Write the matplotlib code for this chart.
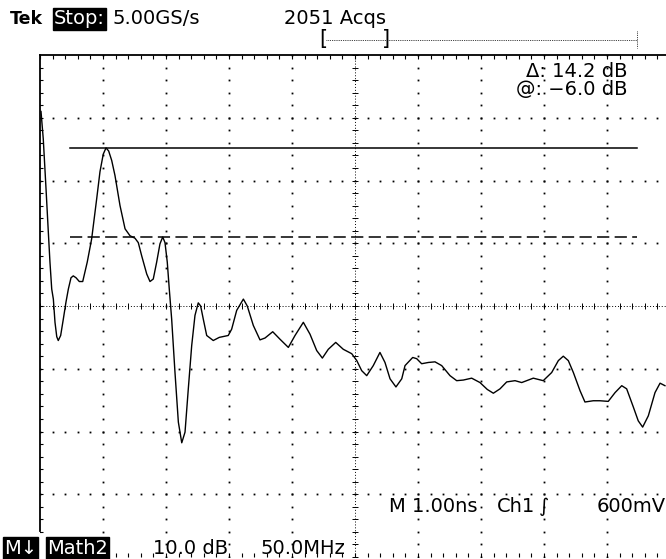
import matplotlib
matplotlib.use("Agg")
import matplotlib.pyplot as plt
import numpy as np

# trace: frequency (MHz, 50 MHz/div) and level (dB, 10 dB/div)
freq_mhz = [0.8, 2.6, 4.8, 6.6, 7.9, 9.3, 10.6, 11.9, 13.3, 14.5, 16.4, 18.5, 20.6,
            22.5, 24.6, 26.4, 28.6, 31.2, 33.9, 37.5, 41.0, 45.0, 47.6, 50.2, 52.4,
            54.5, 56.9, 59.5, 63.5, 67.5, 71.4, 75.4, 78.0, 80.7, 84.7, 87.3, 89.9,
            92.6, 95.2, 97.4, 99.2, 101.0, 102.6, 104.5, 107.1, 109.8, 112.5, 115.1,
            117.7, 120.4, 123.0, 125.6, 127.5, 129.6, 132.3, 137.5, 142.3, 149.4,
            152.1, 156.1, 161.4, 164.5, 169.3, 174.6, 178.6, 184.7, 190.5, 197.1,
            202.4, 209.0, 214.3, 219.6, 224.1, 228.8, 234.7, 240.7, 247.4, 251.4,
            255.3, 259.3, 264.5, 269.8, 273.8, 277.8, 282.5, 287.1, 289.7, 295.8,
            299.0, 302.9, 308.2, 313.5, 318.8, 325.4, 330.7, 336.0, 342.6, 349.2,
            355.0, 359.8, 365.1, 370.4, 377.0, 382.3, 391.5, 399.4, 406.1, 411.4,
            415.3, 419.3, 423.3, 428.6, 432.5, 439.1, 444.4, 451.0, 456.4, 461.7,
            465.6, 470.9, 474.8, 478.3, 482.8, 488.1, 492.1, 496.0]
level_db = [14.0, 9.6, 1.6, -5.2, -10.0, -14.3, -15.9, -19.6, -21.9, -22.5, -21.7, -19.1, -16.4,
            -14.3, -12.5, -12.2, -12.5, -13.1, -13.1, -10.0, -6.3, 0.1, 4.4, 7.2, 8.2,
            7.7, 6.2, 3.8, -1.0, -4.7, -5.8, -6.2, -6.9, -9.0, -11.9, -13.1, -12.7,
            -10.0, -7.1, -6.0, -6.9, -10.0, -14.3, -19.1, -27.5, -35.5, -38.8, -37.1,
            -30.2, -23.3, -18.5, -16.5, -17.0, -19.1, -21.7, -22.5, -22.0, -21.7,
            -20.7, -17.7, -15.9, -17.0, -20.1, -22.4, -22.1, -21.1, -22.3, -23.6,
            -21.7, -19.6, -21.5, -24.1, -25.3, -23.9, -22.8, -23.9, -24.6, -25.7,
            -27.3, -28.1, -26.5, -24.4, -26.0, -28.6, -29.9, -28.6, -26.5, -25.2,
            -25.4, -26.2, -26.0, -25.9, -26.5, -28.1, -28.9, -28.8, -28.5, -29.2,
            -30.3, -30.9, -30.2, -29.1, -28.9, -29.2, -28.5, -28.9, -27.6, -25.7,
            -25.0, -25.7, -27.6, -30.5, -32.3, -32.1, -32.1, -32.2, -30.8, -29.7,
            -30.2, -33.1, -35.3, -36.3, -34.5, -30.8, -29.3, -29.7]

# cursors
cursor_db = [8.2, -6.0]
cursor_span = [23.8, 473.8]

# screen: 10 x 8 divisions
x_lo, x_hi, x_div = 0, 500, 50
y_lo, y_hi, y_div = -57, 23, 10
x_mid = 250
y_mid = -17

W, H = 666, 559
fig = plt.figure(figsize=(W / 100, H / 100), dpi=100)
fig.patch.set_facecolor("white")
ax = fig.add_axes([40 / W, 2 / H, 630 / W, 502 / H])
ax.set_xlim(x_lo, x_hi)
ax.set_ylim(y_lo, y_hi)
ax.axis("off")

k = "black"
dot = dict(marker="s", markersize=1.3, markeredgewidth=0, color=k, linestyle="none")

# dotted graticule lines
xs_fine = np.arange(x_lo, x_hi + 0.1, x_div / 5)
ys_fine = np.arange(y_lo, y_hi + 0.1, y_div / 5)
for gy in np.arange(y_lo + y_div, y_hi, y_div):
    if gy == y_mid:
        continue
    ax.plot(xs_fine, np.full_like(xs_fine, gy), **dot)
for gx in np.arange(x_lo + x_div, x_hi, x_div):
    if gx == x_mid:
        continue
    ax.plot(np.full_like(ys_fine, gx), ys_fine, **dot)

# centre lines with cross ticks
ax.plot([x_lo, x_hi], [y_mid, y_mid], color=k, lw=0.7, linestyle=(0, (1, 2)))
ax.plot([x_mid, x_mid], [y_lo, y_hi], color=k, lw=0.7, linestyle=(0, (1, 2)))
ax.plot(xs_fine, np.full_like(xs_fine, y_mid), marker="|", markersize=4.5,
        markeredgewidth=0.7, color=k, linestyle="none")
ax.plot(np.full_like(ys_fine, x_mid), ys_fine, marker="_", markersize=4.5,
        markeredgewidth=0.7, color=k, linestyle="none")

# frame: top and left edges with ticks, bottom row of ticks
ax.plot([x_lo, x_hi], [y_hi, y_hi], color=k, lw=1.3, clip_on=False)
ax.plot([x_lo, x_lo], [y_hi, -52.8], color=k, lw=1.3, clip_on=False)
ax.plot(xs_fine, np.full_like(xs_fine, y_hi - 0.35), marker="|", markersize=2.2,
        markeredgewidth=0.8, color=k, linestyle="none")
ax.plot(np.full_like(ys_fine[2:-1], 0.9), ys_fine[2:-1], marker="_", markersize=2.2,
        markeredgewidth=0.8, color=k, linestyle="none")
ax.plot(xs_fine[1:], np.full_like(xs_fine[1:], y_lo + 0.3), marker="|", markersize=2.2,
        markeredgewidth=0.8, color=k, linestyle="none", clip_on=False)

# cursors
ax.plot(cursor_span, [cursor_db[0]] * 2, color=k, lw=1.1)
ax.plot(cursor_span, [cursor_db[1]] * 2, color=k, lw=1.1, linestyle=(0, (8, 3.5)))

# trace
ax.plot(freq_mhz, level_db, color=k, lw=1.0, solid_joinstyle="round")


def put(x, y, s, size=14, **kw):
    fig.text(x / W, 1 - y / H, s, va="center", fontsize=size,
             family="DejaVu Sans", **kw)


inv = dict(boxstyle="square,pad=0.06", fc="black", ec="black")

# header
put(10, 19, "Tek", size=12.5, fontweight="bold")
put(54, 19, "Stop:", color="white", bbox=inv)
put(112, 19, "5.00GS/s")
put(284, 19, "2051 Acqs")
put(319, 39, "[", size=15)
put(382, 39, "]", size=15)
fig.lines.append(plt.Line2D([326 / W, 637 / W], [1 - 40 / H] * 2, transform=fig.transFigure,
                            color=k, lw=0.6, linestyle=(0, (1, 1.2))))
fig.lines.append(plt.Line2D([637 / W] * 2, [1 - 31 / H, 1 - 48 / H], transform=fig.transFigure,
                            color=k, lw=0.6, linestyle=(0, (1, 1.2))))

# cursor readout
put(627, 71, "Δ: 14.2 dB", ha="right")
put(627, 89, "@: −6.0 dB", ha="right")

# timebase / trigger line
put(389, 507, "M 1.00ns")
put(497, 507, "Ch1")
put(539, 507, "∫")
put(597, 507, "600mV")

# footer
put(4, 548, "M↓", color="white", bbox=inv)
put(47, 548, "Math2", color="white", bbox=inv)
put(153, 548, "10.0 dB")
put(260, 548, "50.0MHz")

fig.savefig("out.png", dpi=100)
